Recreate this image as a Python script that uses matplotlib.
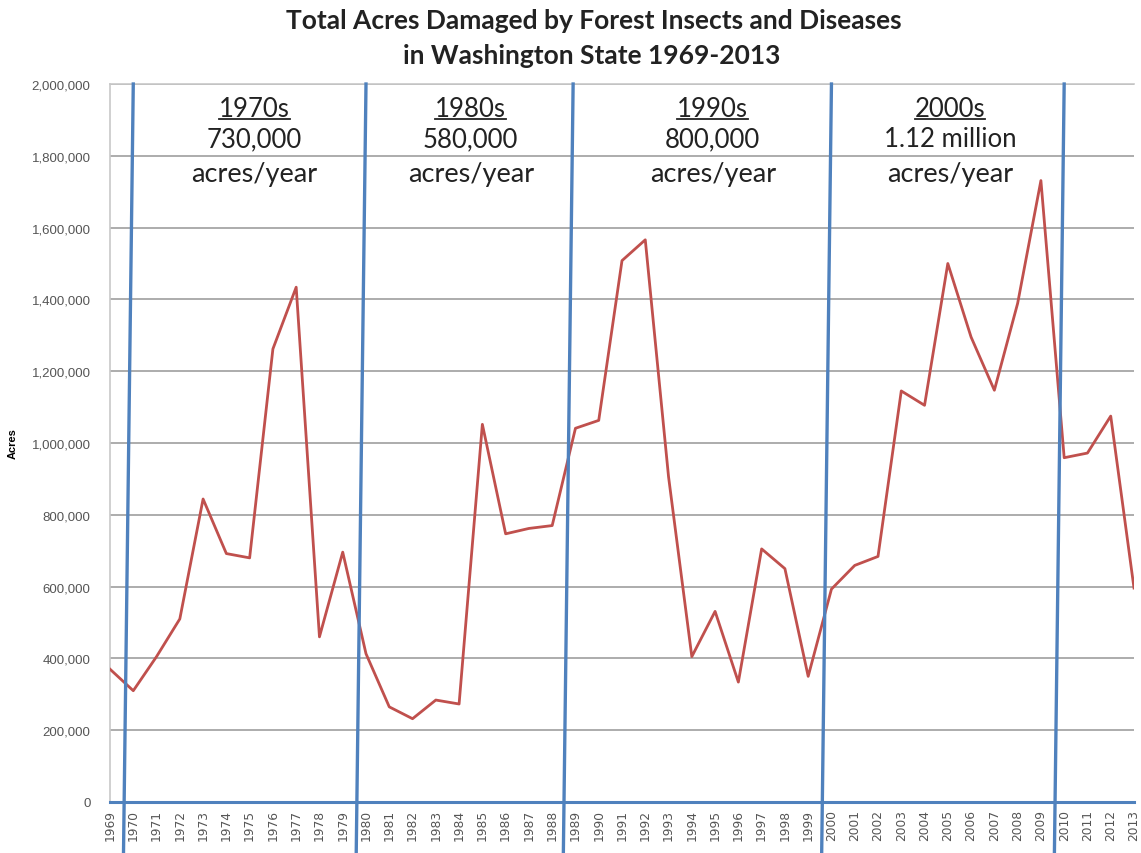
import numpy as np
import matplotlib
matplotlib.use('Agg')
import matplotlib.pyplot as plt
import matplotlib.transforms as mtransforms
from matplotlib.ticker import FuncFormatter

plt.rcParams['font.family'] = ['Lato', 'DejaVu Sans']

years = np.arange(1969, 2014)
acres = [
    370000, 310000, 405000, 510000, 844000, 692000, 680000, 1262000,
    1434000, 460000, 696000, 413000, 265000, 232000, 284000, 273000,
    1052000, 747000, 762000, 770000, 1041000, 1063000, 1508000, 1566000,
    906000, 405000, 531000, 334000, 705000, 650000, 350000, 593000,
    659000, 684000, 1145000, 1105000, 1500000, 1295000, 1147000, 1389000,
    1731000, 959000, 972000, 1075000, 596000,
]

# decade dividers (as drawn, slightly slanted) and decade notes
divider_years = [1970.0, 1980.0, 1988.9, 2000.0, 2010.0]
decade_names = ['1970s', '1980s', '1990s', '2000s']
decade_avgs = ['730,000', '580,000', '800,000', '1.12 million']
decade_centres = [1975.2, 1984.5, 1994.9, 2005.1]

red = '#c0504d'
blue = '#4f81bd'
grey_grid = '#a6a6a6'

fig = plt.figure(figsize=(11.41, 8.54), dpi=100)
ax = fig.add_axes([110/1141, 51/854, 1024/1141, 718/854])

ax.plot(years, acres, color=red, lw=2.0, zorder=3)

ax.set_xlim(1969, 2013)
ax.set_ylim(0, 2000000)
ax.set_yticks(np.arange(0, 2000001, 200000))
ax.yaxis.set_major_formatter(FuncFormatter(lambda v, p: f'{int(v):,}'))
ax.set_xticks(years)
ax.set_xticklabels([str(y) for y in years], rotation=90,
                   family='DejaVu Sans', fontsize=8.8, color='#555555')
ax.tick_params(axis='y', labelsize=9.5, colors='#555555', length=0, pad=14)
for lab in ax.get_yticklabels():
    lab.set_family('Liberation Sans')
ax.tick_params(axis='x', length=0, pad=5)
ax.grid(axis='y', color=grey_grid, lw=1.3)
ax.set_axisbelow(True)
for s in ['left', 'top', 'right']:
    ax.spines[s].set_color('#c8c8c8')
    ax.spines[s].set_linewidth(1.2)
ax.spines['right'].set_visible(False)
ax.spines['bottom'].set_color(blue)
ax.spines['bottom'].set_linewidth(2.2)

ax.set_ylabel('Acres', family='Liberation Sans', fontsize=8,
              fontweight='bold')
ax.yaxis.set_label_coords(-0.0905, 0.5)

# hand-drawn decade dividers running past the axis
for xd in divider_years:
    ax.plot([xd, xd - 0.42], [2000000, -142000], color=blue, lw=2.4,
            clip_on=False, zorder=4)

trans = mtransforms.blended_transform_factory(ax.transData, ax.transAxes)
heads = []
for xc, name, avg in zip(decade_centres, decade_names, decade_avgs):
    heads.append(ax.text(xc, 0.9555, name, transform=trans, ha='center',
                         va='baseline', fontsize=18.5, color='#222222'))
    ax.text(xc, 0.9135, avg, transform=trans, ha='center', va='baseline',
            fontsize=18.5, color='#222222')
    ax.text(xc, 0.8650, 'acres/year', transform=trans, ha='center',
            va='baseline', fontsize=19.5, color='#222222')

fig.text(0.520, 0.975, 'Total Acres Damaged by Forest Insects and Diseases',
         ha='center', va='center', fontsize=19, fontweight='bold',
         color='#222222')
fig.text(0.519, 0.934, 'in Washington State 1969-2013', ha='center',
         va='center', fontsize=19, fontweight='bold', color='#222222')

# underline the decade headings
fig.canvas.draw()
inv = fig.transFigure.inverted()
for t in heads:
    bb = t.get_window_extent()
    (x0, y0), (x1, y1) = inv.transform([[bb.x0, bb.y0], [bb.x1, bb.y0]])
    fig.add_artist(plt.Line2D([x0, x1], [y0 + 0.002, y0 + 0.002],
                              color='#222222', lw=1.3))

fig.savefig('out.png', dpi=100)
